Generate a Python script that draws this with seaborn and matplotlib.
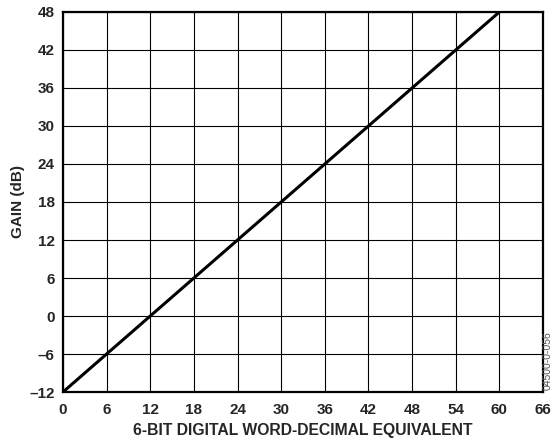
import numpy as np
import pandas as pd
import matplotlib
matplotlib.use('Agg')
import matplotlib.pyplot as plt
import seaborn as sns

# data
code = [0, 60]
gain_db = [-12, 48]
x_ticks = list(range(0, 67, 6))
y_ticks = list(range(-12, 49, 6))

df = pd.DataFrame({'code': code, 'gain': gain_db})

sns.set_style('white')
plt.rcParams['font.family'] = ['Liberation Sans', 'DejaVu Sans']
plt.rcParams['font.weight'] = 'bold'

fig = plt.figure(figsize=(5.57, 4.42), dpi=100)
ax = fig.add_axes([0.113, 0.113, 0.862, 0.860])

sns.lineplot(data=df, x='code', y='gain', color='black', linewidth=2.2, ax=ax)

ax.set_xlim(0, 66)
ax.set_ylim(-12, 48)
ax.set_xticks(x_ticks)
ax.set_yticks(y_ticks)
ax.set_yticklabels([str(v).replace('-', '\u2013') for v in y_ticks])
ax.grid(True, color='black', linewidth=0.8)
ax.tick_params(axis='x', length=0, labelsize=11, pad=8)
ax.tick_params(axis='y', length=0, labelsize=11, pad=6)
for lab in ax.get_xticklabels() + ax.get_yticklabels():
    lab.set_fontweight('bold')
for sp in ax.spines.values():
    sp.set_color('black')
    sp.set_linewidth(1.6)

ax.set_xlabel('6-BIT DIGITAL WORD-DECIMAL EQUIVALENT', fontsize=11.3, fontweight='bold', labelpad=4)
ax.set_ylabel('GAIN (dB)', fontsize=11, fontweight='bold', labelpad=3)

fig.text(0.984, 0.185, '04500-0-056', rotation=90, fontsize=7.5, color='#555555',
         ha='center', va='center', fontweight='normal')

fig.savefig('out.png', dpi=100)
